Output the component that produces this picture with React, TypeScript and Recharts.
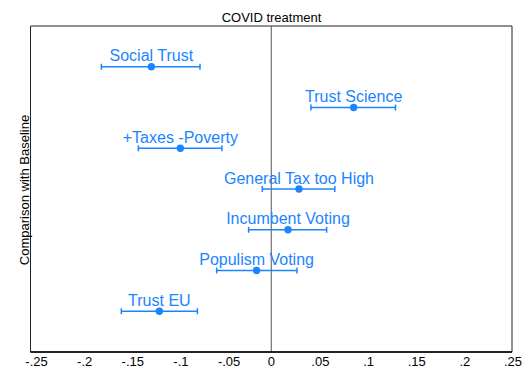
import React from "react";
import {
  ComposedChart,
  Scatter,
  XAxis,
  YAxis,
  ErrorBar,
  ReferenceLine,
  ReferenceArea,
} from "recharts";

const categories = [
  "Social Trust",
  "Trust Science",
  "+Taxes -Poverty",
  "General Tax too High",
  "Incumbent Voting",
  "Populism Voting",
  "Trust EU",
];
const estimates = [-0.1245, 0.0856, -0.0944, 0.0288, 0.0174, -0.0152, -0.1162];
const ciLow = [-0.1764, 0.0412, -0.138, -0.0093, -0.0235, -0.0567, -0.1557];
const ciHigh = [-0.074, 0.129, -0.0512, 0.066, 0.0575, 0.0267, -0.0767];
const xTicks = [-0.25, -0.2, -0.15, -0.1, -0.05, 0, 0.05, 0.1, 0.15, 0.2, 0.25];
const xTickLabels = ["-.25", "-.2", "-.15", "-.1", "-.05", "0", ".05", ".1", ".15", ".2", ".25"];
const title = "COVID treatment";
const yTitle = "Comparison with Baseline";

const data = categories.map((name, i) => ({
  name,
  est: estimates[i],
  row: categories.length - i,
  err: [estimates[i] - ciLow[i], ciHigh[i] - estimates[i]],
}));

const BLUE = "#1a85ff";
const FONT = "'Liberation Sans', Arial, sans-serif";

const Dot = (props: any) => {
  const { cx, cy, payload } = props;
  return (
    <g>
      <circle cx={cx} cy={cy} r={3.7} fill={BLUE} />
      <text
        x={cx}
        y={cy - 5.3}
        textAnchor="middle"
        fill={BLUE}
        fontSize={16}
        fontFamily={FONT}
      >
        {payload.name}
      </text>
    </g>
  );
};

const Tick = (props: any) => {
  const { x, y, payload } = props;
  const idx = xTicks.indexOf(payload.value);
  const label = idx >= 0 ? xTickLabels[idx] : String(payload.value);
  const shift = payload.value < 0 ? 6 : payload.value > 0 ? 1 : 0;
  return (
    <text
      x={x + shift}
      y={y}
      dy="0.71em"
      textAnchor="middle"
      fill="#000"
      fontSize={13}
      fontFamily={FONT}
    >
      {label}
    </text>
  );
};

export default function App() {
  return (
    <div style={{ position: "relative", width: 515, height: 368 }}>
      <ComposedChart
        width={515}
        height={368}
        data={data}
        margin={{ top: 18, right: 11, bottom: 0, left: 22.5 }}
      >
        <XAxis
          type="number"
          dataKey="est"
          domain={[-0.25, 0.25]}
          ticks={xTicks}
          interval={0}
          height={24}
          tickLine={false}
          tickSize={0}
          tickMargin={5}
          axisLine={{ stroke: "#000", strokeWidth: 1.3 }}
          tick={<Tick />}
          allowDataOverflow
        />
        <YAxis type="number" dataKey="row" domain={[0, 8]} hide />
        <ReferenceArea
          x1={-0.25}
          x2={0.25}
          y1={0}
          y2={8}
          fill="none"
          fillOpacity={0}
          stroke="#222"
          strokeWidth={1}
          ifOverflow="visible"
        />
        <ReferenceLine x={0} stroke="#555" strokeWidth={1} />
        <Scatter
          dataKey="row"
          isAnimationActive={false}
          shape={<Dot />}
        >
          <ErrorBar
            dataKey="err"
            direction="x"
            width={3}
            stroke={BLUE}
            strokeWidth={1.5}
            isAnimationActive={false}
          />
        </Scatter>
      </ComposedChart>
      <svg
        width={515}
        height={368}
        style={{ position: "absolute", left: 0, top: 0, pointerEvents: "none" }}
      >
        <text x={263.5} y={13.7} textAnchor="middle" fontSize={13} fontFamily={FONT} fill="#000">
          {title}
        </text>
        <text
          transform="translate(20.5,182) rotate(-90)"
          textAnchor="middle"
          fontSize={13}
          fontFamily={FONT}
          fill="#000"
        >
          {yTitle}
        </text>
      </svg>
    </div>
  );
}
